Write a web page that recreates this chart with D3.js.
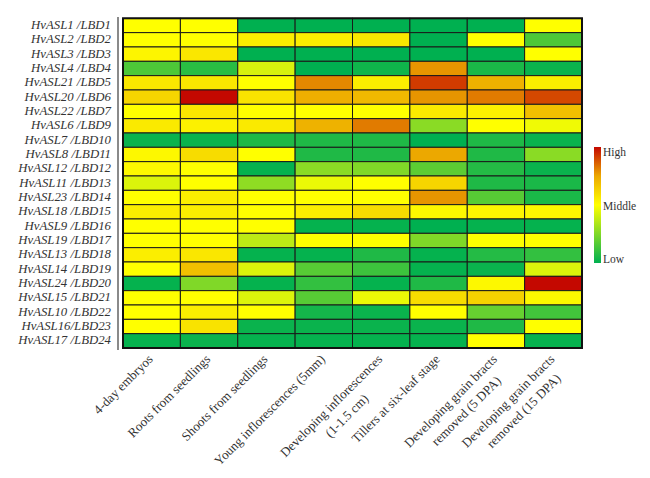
<!DOCTYPE html>
<html>
<head>
<meta charset="utf-8">
<script src="https://cdn.jsdelivr.net/npm/d3@7"></script>
<style>
  html, body { margin: 0; padding: 0; background: #ffffff; }
  svg { display: block; }
</style>
</head>
<body>
<div id="chart"></div>
<script>
// ---- data ----
const genes = [
  "HvASL1 /LBD1", "HvASL2 /LBD2", "HvASL3 /LBD3", "HvASL4 /LBD4", "HvASL21 /LBD5",
  "HvASL20 /LBD6", "HvASL22 /LBD7", "HvASL6 /LBD9", "HvASL7 /LBD10", "HvASL8 /LBD11",
  "HvASL12 /LBD12", "HvASL11 /LBD13", "HvASL23 /LBD14", "HvASL18 /LBD15", "HvASL9 /LBD16",
  "HvASL19 /LBD17", "HvASL13 /LBD18", "HvASL14 /LBD19", "HvASL24 /LBD20", "HvASL15 /LBD21",
  "HvASL10 /LBD22", "HvASL16/LBD23", "HvASL17 /LBD24"
];
const tissues = [
  "4-day embryos", "Roots from seedlings", "Shoots from seedlings",
  "Young inflorescences (5mm)", "Developing inflorescences (1-1.5 cm)",
  "Tillers at six-leaf stage", "Developing grain bracts removed (5 DPA)",
  "Developing grain bracts removed (15 DPA)"
];
const tissueLabelLines = [
  ["4-day embryos"], ["Roots from seedlings"], ["Shoots from seedlings"],
  ["Young inflorescences (5mm)"], ["Developing inflorescences", "(1-1.5 cm)"],
  ["Tillers at six-leaf stage"], ["Developing grain bracts", "removed (5 DPA)"],
  ["Developing grain bracts", "removed (15 DPA)"]
];
// relative expression level: 0 = Low, 0.5 = Middle, 1 = High
const expression = [
  [0.50, 0.50, 0.00, 0.00, 0.00, 0.00, 0.00, 0.50],
  [0.50, 0.50, 0.55, 0.55, 0.57, 0.00, 0.50, 0.15],
  [0.53, 0.57, 0.00, 0.00, 0.00, 0.00, 0.00, 0.50],
  [0.15, 0.08, 0.42, 0.00, 0.03, 0.78, 0.05, 0.02],
  [0.57, 0.57, 0.50, 0.80, 0.55, 0.92, 0.72, 0.55],
  [0.62, 1.00, 0.58, 0.73, 0.70, 0.78, 0.82, 0.90],
  [0.50, 0.57, 0.50, 0.50, 0.50, 0.56, 0.54, 0.68],
  [0.56, 0.54, 0.56, 0.72, 0.82, 0.27, 0.50, 0.47],
  [0.02, 0.02, 0.06, 0.06, 0.06, 0.00, 0.06, 0.02],
  [0.52, 0.60, 0.50, 0.06, 0.06, 0.75, 0.06, 0.27],
  [0.52, 0.50, 0.01, 0.27, 0.25, 0.18, 0.07, 0.02],
  [0.43, 0.50, 0.28, 0.46, 0.50, 0.62, 0.06, 0.05],
  [0.50, 0.55, 0.50, 0.50, 0.50, 0.78, 0.17, 0.05],
  [0.55, 0.55, 0.50, 0.55, 0.60, 0.52, 0.53, 0.52],
  [0.50, 0.50, 0.50, 0.01, 0.01, 0.00, 0.01, 0.01],
  [0.50, 0.50, 0.37, 0.50, 0.50, 0.25, 0.50, 0.50],
  [0.55, 0.57, 0.01, 0.01, 0.06, 0.01, 0.07, 0.10],
  [0.50, 0.68, 0.43, 0.17, 0.12, 0.01, 0.02, 0.43],
  [0.01, 0.25, 0.01, 0.10, 0.01, 0.06, 0.52, 1.00],
  [0.50, 0.50, 0.43, 0.17, 0.46, 0.60, 0.63, 0.52],
  [0.50, 0.55, 0.50, 0.04, 0.02, 0.50, 0.20, 0.13],
  [0.50, 0.58, 0.02, 0.02, 0.02, 0.02, 0.06, 0.50],
  [0.01, 0.02, 0.01, 0.01, 0.01, 0.01, 0.50, 0.01]
];
const legendLabels = ["High", "Middle", "Low"];
const legendValues = [1, 0.5, 0];

// ---- layout ----
const W = 650, H = 478;
const svg = d3.select("#chart").append("svg").attr("width", W).attr("height", H);
const serif = "'Liberation Serif', 'Times New Roman', serif";

const x = d3.scaleBand().domain(tissues).range([123, 582]);
const y = d3.scaleBand().domain(genes).range([18.3, 348]);
const color = d3.scaleLinear()
  .domain([0, 0.5, 0.75, 1])
  .range(["#00b050", "#ffff00", "#eca800", "#c40800"]);

const cells = [];
genes.forEach((g, i) => tissues.forEach((t, j) => cells.push({g, t, v: expression[i][j]})));

svg.append("g").selectAll("rect").data(cells).join("rect")
  .attr("x", d => x(d.t)).attr("y", d => y(d.g))
  .attr("width", x.bandwidth()).attr("height", y.bandwidth())
  .attr("fill", d => color(d.v))
  .attr("stroke", "#1a1a1a").attr("stroke-width", 1);

// outer border
svg.append("rect")
  .attr("x", 123).attr("y", 18.3).attr("width", 459).attr("height", 348 - 18.3)
  .attr("fill", "none").attr("stroke", "#111").attr("stroke-width", 2);

// separator line
svg.append("line").attr("x1", 118).attr("x2", 118).attr("y1", 17).attr("y2", 350)
  .attr("stroke", "#8a8a8a").attr("stroke-width", 2);

// row labels (left axis)
const yAxis = d3.axisLeft(y).tickSize(0).tickPadding(0);
const yg = svg.append("g").attr("transform", "translate(111,0)").call(yAxis);
yg.select(".domain").remove();
yg.selectAll("text")
  .attr("font-family", serif).attr("dy", "0.28em")
  .attr("font-style", "italic").attr("font-size", "12.8px").attr("fill", "#333");

// column labels (rotated)
const xg = svg.append("g");
tissues.forEach((t, j) => {
  const lines = tissueLabelLines[j];
  const cx = x(t) + x.bandwidth() / 2 + 2;
  const g = xg.append("g").attr("transform", `translate(${cx},360) rotate(-45)`);
  const txt = g.append("text")
    .attr("font-family", serif).attr("font-size", "13px").attr("fill", "#333");
  if (lines.length === 1) {
    txt.attr("text-anchor", "end").text(lines[0]);
  } else {
    const tmp = g.append("text").attr("font-family", serif).attr("font-size", "13px");
    let maxLen = 0;
    lines.forEach(l => { tmp.text(l); maxLen = Math.max(maxLen, tmp.node().getComputedTextLength()); });
    tmp.remove();
    txt.attr("text-anchor", "middle");
    lines.forEach((l, k) => {
      txt.append("tspan").attr("x", -maxLen / 2 + k * 4).attr("y", k * 18).text(l);
    });
  }
});

// legend
const defs = svg.append("defs");
const grad = defs.append("linearGradient").attr("id", "lg")
  .attr("x1", 0).attr("y1", 0).attr("x2", 0).attr("y2", 1);
d3.range(0, 1.0001, 0.05).forEach(s => {
  grad.append("stop").attr("offset", s).attr("stop-color", color(1 - s));
});
const legTop = 147, legBot = 263;
svg.append("rect").attr("x", 594).attr("y", legTop).attr("width", 7).attr("height", legBot - legTop)
  .attr("fill", "url(#lg)");
const ly = d3.scaleLinear().domain([0, 1]).range([legBot - 4, legTop + 5]);
svg.append("g").selectAll("text").data(legendLabels).join("text")
  .attr("x", 603).attr("y", (d, i) => ly(legendValues[i]) + 4)
  .attr("font-family", serif).attr("font-size", "11.5px").attr("fill", "#333")
  .text(d => d);
</script>
</body>
</html>
